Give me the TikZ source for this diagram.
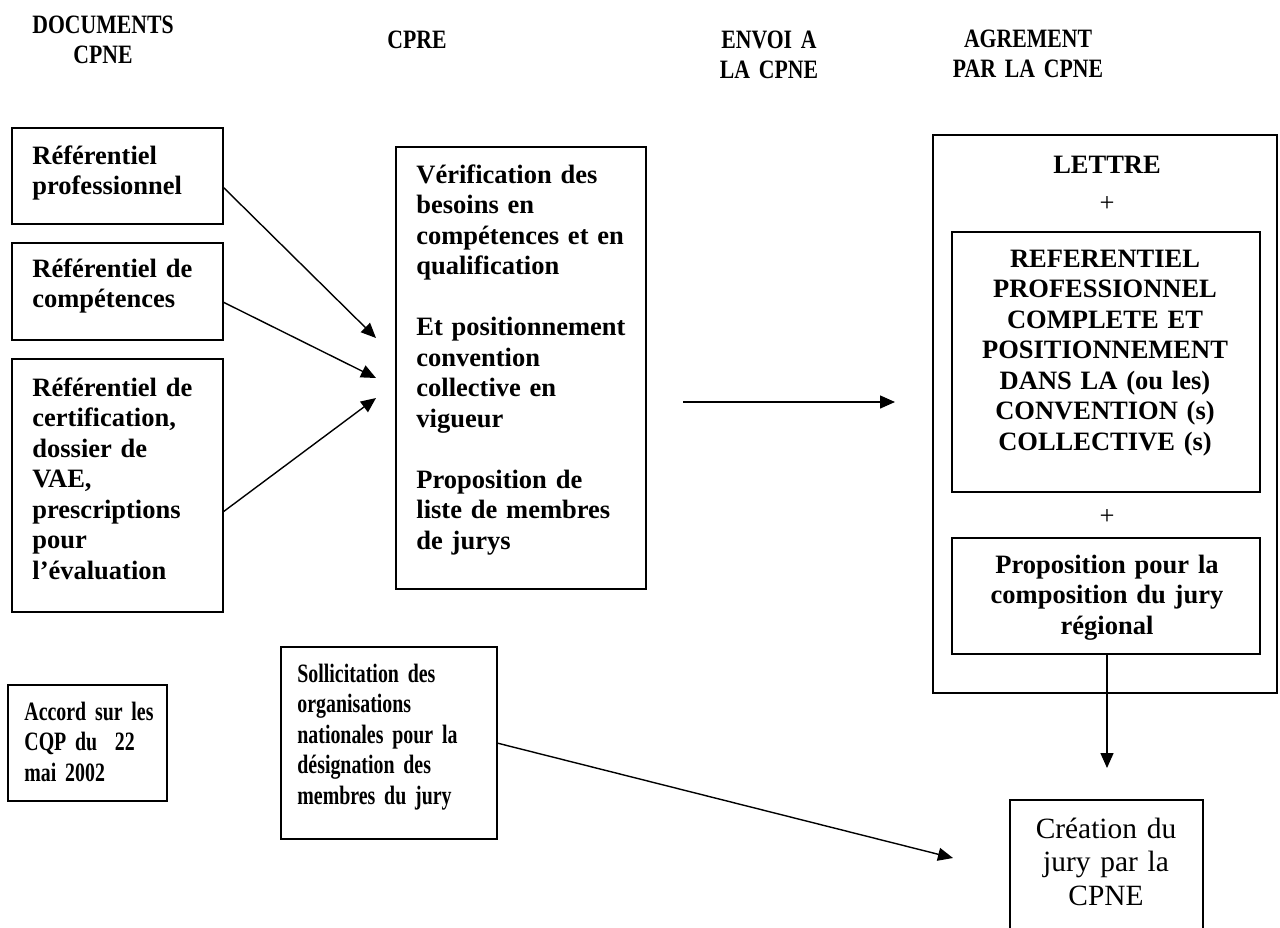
\documentclass[tikz,border=0pt]{standalone}
\usepackage{fontspec}
\setmainfont{Liberation Serif}
\newfontfamily\hdrfont[FakeStretch=0.82, WordSpace=0.7]{Liberation Serif}
\newfontfamily\narrowfont[FakeStretch=0.75, WordSpace=0.5]{Liberation Serif}
\usetikzlibrary{arrows.meta}

\tikzset{
	docbox/.style={draw, line width=1pt, anchor=north west, inner sep=0pt, outer sep=0pt},
	boxtxt/.style={inner sep=0pt, align=left, text width=#1, anchor=base west,
		font=\fontsize{13.25}{15.25}\selectfont\bfseries},
	narrowtxt/.style={inner sep=0pt, align=left, text width=#1, anchor=base west,
		font=\narrowfont\fontsize{13.25}{15.25}\selectfont\bfseries},
	ctrtxt/.style={inner sep=0pt, align=center, text width=#1, anchor=base,
		font=\fontsize{13.25}{15.25}\selectfont\bfseries},
	hdr/.style={inner sep=0pt, align=center, text width=#1, anchor=base,
		font=\hdrfont\fontsize{13.25}{15}\selectfont\bfseries},
	arr/.style={line width=0.7pt, -{Triangle[length=7.5pt,width=6.5pt]}}
}

\begin{document}
\begin{tikzpicture}[x=0.5pt, y=-0.5pt]
		\clip (0,0) rectangle (1280,927);
		% Column titles
		\node[hdr=90pt] (hdoc) at (103,33) {DOCUMENTS\\CPNE};
		\node[hdr=60pt] (hcpre) at (417,48) {CPRE};
		\node[hdr=70pt] (henvoi) at (769,48) {ENVOI A\\LA CPNE};
		\node[hdr=90pt] (hagr) at (1028,47) {AGREMENT\\PAR LA CPNE};
		% Documents CPNE
		\node[docbox, minimum width=105.5pt, minimum height=48pt] (ref1) at (12,128) {};
		\node[boxtxt=88pt] (ref1txt) at (32,164) {Référentiel\\professionnel};
		\node[docbox, minimum width=105.5pt, minimum height=48.5pt] (ref2) at (12,243) {};
		\node[boxtxt=88pt] (ref2txt) at (32,277) {Référentiel de\\compétences};
		\node[docbox, minimum width=105.5pt, minimum height=126.5pt] (ref3) at (12,359) {};
		\node[boxtxt=88pt] (ref3txt) at (32,396)
			{Référentiel de\\certification,\\dossier de\\VAE,\\prescriptions\\pour\\l’évaluation};
		\node[docbox, minimum width=79.5pt, minimum height=58pt] (accord) at (8,685) {};
		\node[narrowtxt=70pt] (accordtxt) at (24,720) {Accord sur les\\CQP du~~22\\mai 2002};
		% CPRE
		\node[docbox, minimum width=125pt, minimum height=221pt] (cpre) at (396,147) {};
		\node[boxtxt=112pt] (cpretxt) at (416,183)
			{Vérification des\\besoins en\\compétences et en\\qualification\\[\baselineskip]
			Et positionnement\\convention\\collective en\\vigueur\\[\baselineskip]
			Proposition de\\liste de membres\\de jurys};
		\node[docbox, minimum width=108pt, minimum height=96pt] (soll) at (281,647) {};
		\node[narrowtxt=96pt] (solltxt) at (297,682)
			{Sollicitation des\\organisations\\nationales pour la\\désignation des\\membres du jury};
		% Agrement par la CPNE
		\node[docbox, minimum width=172pt, minimum height=279pt] (agr) at (933,135) {};
		\node[ctrtxt=150pt] (lettre) at (1107,173) {LETTRE};
		\node[inner sep=0pt, anchor=base, font=\fontsize{13.25}{15.25}\selectfont] (plus1) at (1107,211) {+};
		\node[docbox, minimum width=154pt, minimum height=130pt] (refpro) at (952,232) {};
		\node[ctrtxt=150pt] (refprotxt) at (1105,267)
			{REFERENTIEL\\PROFESSIONNEL\\COMPLETE ET\\POSITIONNEMENT\\DANS LA (ou les)\\CONVENTION (s)\\COLLECTIVE (s)};
		\node[inner sep=0pt, anchor=base, font=\fontsize{13.25}{15.25}\selectfont] (plus2) at (1107,524) {+};
		\node[docbox, minimum width=154pt, minimum height=58pt] (jury) at (952,538) {};
		\node[ctrtxt=150pt] (jurytxt) at (1107,573) {Proposition pour la\\composition du jury\\régional};
		\node[docbox, minimum width=96.5pt, minimum height=80pt] (creation) at (1010,800) {};
		\node[inner sep=0pt, align=center, text width=90pt, anchor=base, font=\fontsize{14.7}{16.75}\selectfont]
			(creationtxt) at (1106,838) {Création du\\jury par la\\CPNE};
		% Arrows
		\coordinate (in1) at (376,338);
		\coordinate (in2) at (376,378);
		\coordinate (in3) at (376,398);
		\coordinate (sendL) at (683,402);
		\coordinate (sendR) at (895,402);
		\coordinate (down) at (1107,768);
		\coordinate (toj) at (953,858);
		\draw[arr] ([yshift=-5.5pt]ref1.east) -- (in1);
		\draw[arr] ([yshift=-5.25pt]ref2.east) -- (in2);
		\draw[arr] ([yshift=-13.25pt]ref3.east) -- (in3);
		\draw[arr] (sendL) -- (sendR);
		\draw[arr] (jury.south -| down) -- (down);
		\draw[arr] (soll.east) -- (toj);
	\end{tikzpicture}
\end{document}
